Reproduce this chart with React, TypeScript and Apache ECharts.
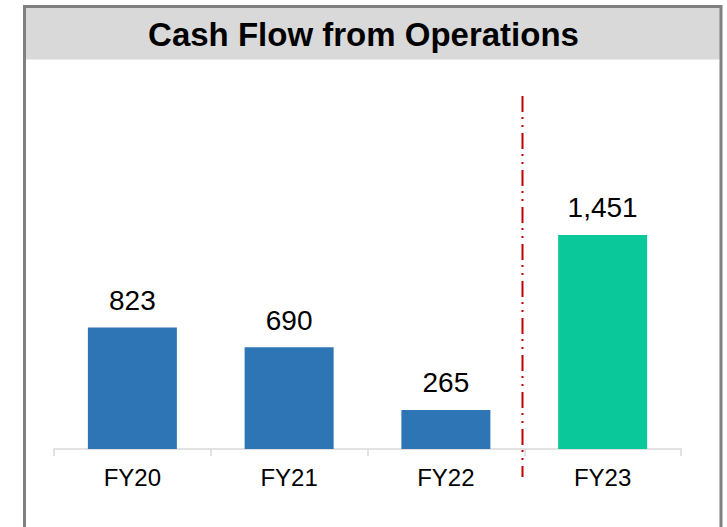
import React, { useEffect, useRef } from "react";
import * as echarts from "echarts";

const title = "Cash Flow from Operations";
const categories = ["FY20", "FY21", "FY22", "FY23"];
const values = [823, 690, 265, 1451];
const barColors = ["#2E75B6", "#2E75B6", "#2E75B6", "#0BC89A"];
const dividerAfterIndex = 3; // boundary between FY22 and FY23

const FONT = "'Liberation Sans', Arial, sans-serif";

export default function App() {
  const ref = useRef<HTMLDivElement>(null);
  useEffect(() => {
    if (!ref.current) return;
    const chart = echarts.init(ref.current, null, { renderer: "svg" });
    const option: any = {
      animation: false,
      backgroundColor: "#ffffff",
      grid: { left: 54, right: 46, top: 154, bottom: 78 },
      xAxis: [
        {
          type: "category",
          data: categories,
          axisLine: { lineStyle: { color: "#D9D9D9", width: 1.5 } },
          axisTick: { show: true, length: 7, lineStyle: { color: "#D9D9D9", width: 1.5 } },
          axisLabel: { color: "#000", fontSize: 24, fontFamily: FONT, margin: 16 },
        },
        { type: "value", min: 0, max: categories.length, show: false },
      ],
      yAxis: { type: "value", min: 0, max: 2000, show: false, splitLine: { show: false } },
      series: [
        {
          type: "bar",
          xAxisIndex: 0,
          barWidth: 89,
          data: values.map((v, i) => ({ value: v, itemStyle: { color: barColors[i] } })),
          label: {
            show: true,
            position: "top",
            distance: 13,
            color: "#000",
            fontSize: 28,
            fontFamily: FONT,
            formatter: (p: any) => Number(p.value).toLocaleString("en-US"),
          },
        },
      ],
    };
    chart.setOption(option);
    const dx = chart.convertToPixel({ xAxisIndex: 1 }, dividerAfterIndex) as number;
    chart.setOption({
      graphic: [
        {
          type: "rect",
          shape: { x: 25, y: 6.5, width: 696, height: 53 },
          style: { fill: "#D9D9D9" },
          silent: true,
        },
        {
          type: "polyline",
          shape: { points: [[24.5, 540], [24.5, 6.5], [721, 6.5], [721, 540]] },
          style: { stroke: "#808080", lineWidth: 3, fill: null },
          silent: true,
        },
        {
          type: "text",
          x: 363.5,
          y: 34,
          style: {
            text: title,
            font: `bold 33px ${FONT}`,
            fill: "#000",
            align: "center",
            verticalAlign: "middle",
          },
          silent: true,
        },
        {
          type: "line",
          shape: { x1: Math.round(dx) - 1.5, y1: 96, x2: Math.round(dx) - 1.5, y2: 477 },
          style: { stroke: "#C00000", lineWidth: 2, lineDash: [16, 5, 2, 6, 2, 6] },
          silent: true,
          z: 10,
        },
      ],
    });
    return () => chart.dispose();
  }, []);
  return (
    <div
      ref={ref}
      style={{ position: "fixed", left: 0, top: 0, width: 727, height: 527 }}
    />
  );
}
